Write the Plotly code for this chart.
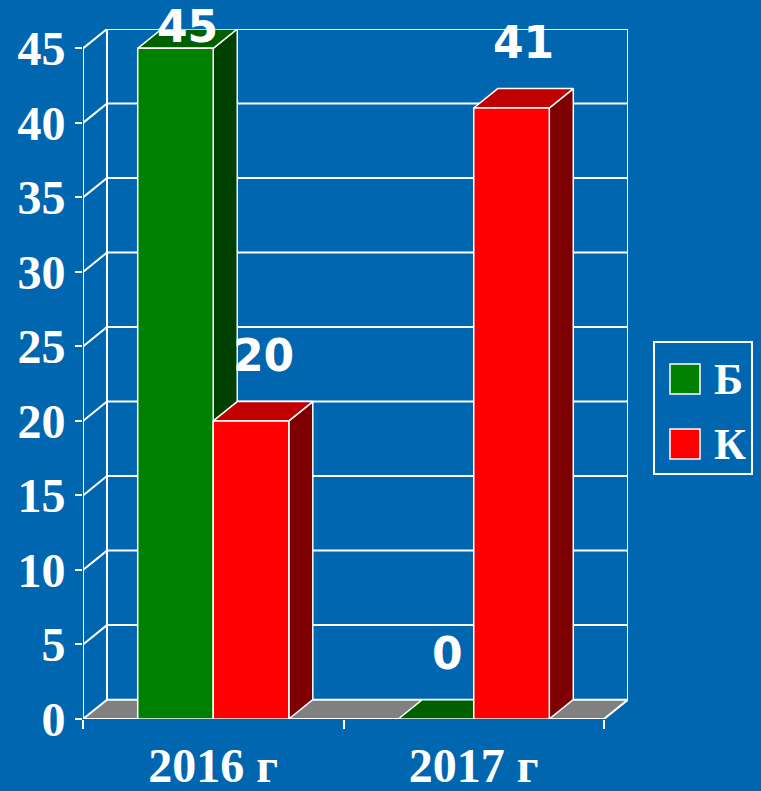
import plotly.graph_objects as go

# ---------------- data ----------------
categories = ["2016 г", "2017 г"]
series_names = ["Б", "К"]
values_B = [45, 0]
values_K = [20, 41]
y_ticks = [0, 5, 10, 15, 20, 25, 30, 35, 40, 45]

# ---------------- style ----------------
BG = "rgb(0,102,176)"
front_colors = {"Б": "#008000", "К": "#FF0000"}
top_colors = {"Б": "#006000", "К": "#C00000"}
side_colors = {"Б": "#004000", "К": "#7F0000"}
FLOOR = "#808080"
WHITE = "white"

# geometry (data units)
DX = 24 / 260.5          # depth offset along x
DY = 1.3                 # depth offset along y
BW = 0.29                # bar width in category units
XMIN, XMAX = -0.5, len(categories) - 0.5
YMAX = max(y_ticks)

# plot-area pixel frame
W, H = 761, 791
L, R, T, B = 83, 133, 29, 72
PW, PH = W - L - R, H - T - B
x_range = [XMIN, XMAX + DX]
y_range = [0, YMAX + DY]
ypx_per_unit = PH / (y_range[1] - y_range[0])

fig = go.Figure()


def poly(xs, ys, fill, lw=1.5):
    fig.add_trace(go.Scatter(
        x=xs + [xs[0]], y=ys + [ys[0]], mode="lines", fill="toself",
        fillcolor=fill, line=dict(color=WHITE, width=lw),
        hoverinfo="skip", showlegend=False, cliponaxis=False))


def line(xs, ys, lw=2):
    fig.add_trace(go.Scatter(
        x=xs, y=ys, mode="lines", line=dict(color=WHITE, width=lw),
        hoverinfo="skip", showlegend=False, cliponaxis=False))


# back wall grid lines (with diagonals from front axis)
for t in y_ticks[1:]:
    line([XMIN, XMIN + DX, XMAX + DX], [t, t + DY, t + DY])
# back wall verticals
line([XMIN + DX, XMIN + DX], [DY, YMAX + DY])
line([XMAX + DX, XMAX + DX], [DY, YMAX + DY])
# front value axis line
line([XMIN, XMIN], [0, YMAX])

# floor
poly([XMIN, XMAX, XMAX + DX, XMIN + DX], [0, 0, DY, DY], FLOOR, 2)

# 3D bars
series = {"Б": values_B, "К": values_K}
for i, cat in enumerate(categories):
    for j, name in enumerate(series_names):
        v = series[name][i]
        x0 = i - BW + j * BW
        x1 = x0 + BW
        if v > 0:
            poly([x1, x1 + DX, x1 + DX, x1], [0, DY, v + DY, v], side_colors[name])
        poly([x0, x1, x1 + DX, x0 + DX], [v, v, v + DY, v + DY], top_colors[name])
        if v > 0:
            poly([x0, x1, x1, x0], [0, 0, v, v], front_colors[name])

# data labels
for i, cat in enumerate(categories):
    for j, name in enumerate(series_names):
        v = series[name][i]
        x0 = i - BW + j * BW
        xc = x0 + BW / 2 + DX / 2
        top_px = T + (y_range[1] - (v + DY)) * ypx_per_unit
        center_px = max(top_px - 46, 26)
        fig.add_annotation(
            x=xc, y=(H - B - center_px) / PH, xref="x", yref="paper",
            text=str(round(v)), showarrow=False, xanchor="center", yanchor="middle",
            font=dict(family="DejaVu Sans", size=44, color=WHITE, weight="bold"))

# manual legend
def px_to_paper(px, py):
    return (px - L) / PW, (H - B - py) / PH

lx0, ly0 = px_to_paper(654, 342)
lx1, ly1 = px_to_paper(752, 474)
fig.add_shape(type="rect", xref="paper", yref="paper", x0=lx0, y0=ly1, x1=lx1, y1=ly0,
              line=dict(color=WHITE, width=2), fillcolor=BG)
for k, name in enumerate(series_names):
    cy = 379 + k * 65
    sx0, sy0 = px_to_paper(670, cy - 15)
    sx1, sy1 = px_to_paper(700, cy + 15)
    fig.add_shape(type="rect", xref="paper", yref="paper", x0=sx0, y0=sy1, x1=sx1, y1=sy0,
                  line=dict(color=WHITE, width=1.5), fillcolor=front_colors[name])
    tx, ty = px_to_paper(712, cy)
    fig.add_annotation(x=tx, y=ty, xref="paper", yref="paper", text=name, showarrow=False,
                       xanchor="left", yanchor="middle",
                       font=dict(family="Liberation Serif", size=44, color=WHITE, weight="bold"))

fig.update_layout(
    width=W, height=H, margin=dict(l=L, r=R, t=T, b=B, pad=0, autoexpand=False),
    paper_bgcolor=BG, plot_bgcolor=BG, showlegend=False,
    xaxis=dict(range=x_range, tickmode="array", tickvals=list(range(len(categories))),
               ticktext=categories, ticks="", showgrid=False, zeroline=False, showline=False,
               ticklabelstandoff=14, automargin=False,
               tickfont=dict(family="Liberation Serif", size=48, color=WHITE, weight="bold"),
               minor=dict(tickmode="array", tickvals=[XMIN + k for k in range(len(categories) + 1)],
                          ticks="outside", ticklen=9, tickwidth=2, tickcolor=WHITE, showgrid=False),
               fixedrange=True),
    yaxis=dict(range=y_range, tickmode="array", tickvals=y_ticks, ticks="outside",
               ticklen=7, tickwidth=2, tickcolor=WHITE, showgrid=False, zeroline=False,
               showline=False, automargin=False,
               tickfont=dict(family="Liberation Serif", size=48, color=WHITE, weight="bold"),
               fixedrange=True),
)

fig.write_html("out.html", config={"displayModeBar": False},
               post_script="document.body.style.margin='0';document.body.style.background='rgb(0,102,176)';")
